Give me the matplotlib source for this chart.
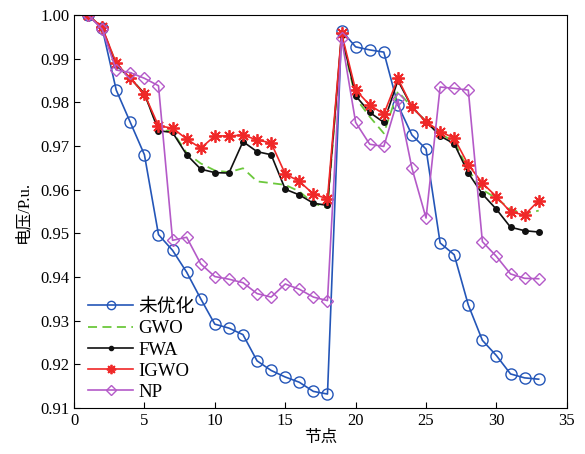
import matplotlib
matplotlib.use('Agg')
import matplotlib.pyplot as plt

plt.rcParams['font.family'] = ['Liberation Serif', 'Noto Sans CJK SC']
plt.rcParams['mathtext.fontset'] = 'stix'

# 节点编号
nodes = list(range(1, 34))

# 各方案节点电压 (p.u.)
v_none = [1.0000, 0.9970, 0.9828, 0.9754, 0.9680, 0.9497, 0.9461, 0.9411, 0.9350, 0.9292,
          0.9283, 0.9268, 0.9208, 0.9186, 0.9171, 0.9159, 0.9138, 0.9132, 0.9964, 0.9927,
          0.9920, 0.9915, 0.9794, 0.9725, 0.9693, 0.9478, 0.9451, 0.9336, 0.9255, 0.9220,
          0.9178, 0.9169, 0.9166]
v_gwo = [1.0000, 0.9970, 0.9888, 0.9855, 0.9820, 0.9738, 0.9733, 0.9684, 0.9660, 0.9644,
         0.9640, 0.9649, 0.9619, 0.9615, 0.9611, 0.9596, 0.9569, 0.9558, 0.9950, 0.9810,
         0.9767, 0.9729, 0.9825, 0.9789, 0.9756, 0.9728, 0.9710, 0.9645, 0.9600, 0.9580,
         0.9555, 0.9545, 0.9552]
v_fwa = [1.0000, 0.9970, 0.9885, 0.9855, 0.9820, 0.9735, 0.9731, 0.9680, 0.9647, 0.9639,
         0.9638, 0.9710, 0.9687, 0.9680, 0.9601, 0.9588, 0.9569, 0.9564, 0.9955, 0.9815,
         0.9777, 0.9754, 0.9850, 0.9789, 0.9756, 0.9723, 0.9705, 0.9638, 0.9590, 0.9555,
         0.9514, 0.9506, 0.9503]
v_igwo = [1.0000, 0.9972, 0.9889, 0.9855, 0.9819, 0.9746, 0.9741, 0.9716, 0.9695, 0.9723,
          0.9723, 0.9725, 0.9714, 0.9707, 0.9636, 0.9619, 0.9590, 0.9579, 0.9958, 0.9828,
          0.9794, 0.9773, 0.9855, 0.9789, 0.9756, 0.9733, 0.9718, 0.9657, 0.9615, 0.9584,
          0.9549, 0.9542, 0.9575]
v_np = [1.0000, 0.9967, 0.9874, 0.9868, 0.9855, 0.9838, 0.9484, 0.9491, 0.9430, 0.9401,
        0.9395, 0.9387, 0.9362, 0.9354, 0.9384, 0.9372, 0.9354, 0.9346, 0.9947, 0.9754,
        0.9704, 0.9699, 0.9807, 0.9649, 0.9535, 0.9835, 0.9832, 0.9828, 0.9481, 0.9447,
        0.9407, 0.9397, 0.9396]

fig = plt.figure(figsize=(5.85, 4.54), dpi=100)
ax = fig.add_axes([0.1265, 0.1013, 0.8425, 0.8657])

ax.plot(nodes, v_none, color='#2456b8', lw=1.2, marker='o', ms=8,
        mfc='none', mec='#2456b8', mew=1.0, label='未优化')
ax.plot(nodes, v_gwo, color='#6cc83c', lw=1.3, ls=(0, (5, 3)), label='GWO')
ax.plot(nodes, v_fwa, color='#111111', lw=1.2, marker='o', ms=4, label='FWA')
# 星号标记: 八臂星
ax.plot(nodes, v_igwo, color='#f02828', lw=1.2, marker=(8, 2, 0), ms=9,
        mec='#f02828', mew=1.3, label='IGWO')
ax.plot(nodes, v_np, color='#b45ac8', lw=1.2, marker='D', ms=6.5,
        mfc='none', mec='#b45ac8', mew=1.0, label='NP')

ax.set_xlim(0, 35)
ax.set_ylim(0.91, 1.0)
ax.set_xticks(range(0, 36, 5))
ax.set_yticks([0.91 + 0.01 * i for i in range(10)])
ax.set_yticklabels(['%.2f' % (0.91 + 0.01 * i) for i in range(10)])
ax.tick_params(direction='in', labelsize=12, length=4, top=False, right=False)
ax.set_xlabel('节点', fontsize=12, labelpad=1)
ax.set_ylabel('电压/P.u.', fontsize=12, labelpad=6)

ax.legend(loc='lower left', bbox_to_anchor=(0, -0.018), frameon=False,
          fontsize=13.5, handlelength=2.4, handletextpad=0.3,
          labelspacing=0.22, borderaxespad=0.35, markerscale=0.75)

plt.savefig('out.png', dpi=100)
